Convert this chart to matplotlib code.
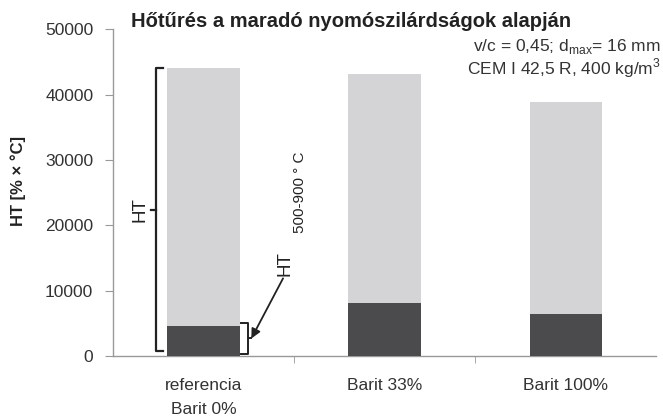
import matplotlib
matplotlib.use("Agg")
import matplotlib.pyplot as plt
from matplotlib.ticker import FixedLocator

categories = ["referencia\nBarit 0%", "Barit 33%", "Barit 100%"]
ht_total = [44000, 43200, 38900]      # HT (full bar)
ht_500_900 = [4650, 8150, 6400]       # HT 500-900 °C (dark part)
yticks = [0, 10000, 20000, 30000, 40000, 50000]

plt.rcParams['font.family'] = ['Liberation Sans', 'DejaVu Sans']

fig = plt.figure(figsize=(6.63, 4.18), dpi=100)
ax = fig.add_axes([0.170, 0.148, 0.820, 0.782])

x = list(range(len(categories)))
w = 0.40
ax.bar(x, ht_total, width=w, color="#d4d4d6", zorder=2)
ax.bar(x, ht_500_900, width=w, color="#4b4b4d", zorder=3)

ax.set_xlim(-0.5, 2.5)
ax.set_ylim(0, 50000)
ax.set_yticks(yticks)
ax.set_yticklabels([str(v) for v in yticks])
ax.set_xticks(x)
ax.set_xticklabels(categories, linespacing=1.75)
ax.xaxis.set_minor_locator(FixedLocator([0.5, 1.5]))
ax.tick_params(axis='x', which='major', length=0, pad=16, labelsize=12.5, colors='#333333')
ax.tick_params(axis='x', which='minor', length=5, color='#999999', direction='out')
ax.tick_params(axis='y', length=6, color='#999999', pad=8, labelsize=12.5, labelcolor='#333333')
for lab in ax.get_xticklabels():
    lab.set_verticalalignment('top')
for s in ['top', 'right']:
    ax.spines[s].set_visible(False)
for s in ['left', 'bottom']:
    ax.spines[s].set_color('#999999')
    ax.spines[s].set_linewidth(1.0)

ax.set_ylabel("HT [% × °C]", fontsize=12, fontweight='bold', color='#222222')
ax.yaxis.set_label_coords(-0.160, 0.535)

# big bracket for HT (full bar)
lc = '#222222'
xb = -w / 2 - 0.06
top = ht_total[0]
bot = 800
ax.plot([xb + 0.035, xb, xb, xb + 0.035], [top, top, bot, bot], color=lc, lw=1.6, zorder=4, clip_on=False)
mid = (top + bot) / 2
ax.plot([xb, xb - 0.027], [mid, mid], color=lc, lw=1.6, zorder=4)
ax.text(xb - 0.09, mid, "HT", rotation=90, ha='center', va='center', fontsize=13.5, color=lc)

# small bracket for HT 500-900 °C
xs = w / 2 + 0.045
stop = ht_500_900[0] + 350
sbot = 400
ax.plot([xs - 0.035, xs, xs, xs - 0.035], [stop, stop, sbot, sbot], color=lc, lw=1.4, zorder=4)
smid = (stop + sbot) / 2
ax.plot([xs, xs + 0.016], [smid, smid], color=lc, lw=1.4, zorder=4)
ax.annotate("", xy=(xs + 0.02, smid), xytext=(0.44, 11900),
            arrowprops=dict(arrowstyle='-|>', color=lc, lw=1.3, mutation_scale=14, shrinkA=0, shrinkB=0))
ax.text(0.45, 14100, "HT", rotation=90, ha='center', va='center', fontsize=13.5, color=lc)
ax.text(0.535, 25000, "500-900 ° C", rotation=90, ha='center', va='center', fontsize=11, color=lc)

fig.text(0.53, 0.949, "Hőtűrés a maradó nyomószilárdságok alapján", ha='center', va='center',
         fontsize=14.5, fontweight='bold', color='#222222')
fig.text(0.997, 0.888, r"v/c = 0,45; d$_{\mathregular{max}}$= 16 mm", ha='right', va='center',
         fontsize=12.5, color='#333333')
fig.text(0.997, 0.838, r"CEM I 42,5 R, 400 kg/m$^{\mathregular{3}}$", ha='right', va='center',
         fontsize=12.5, color='#333333')

fig.savefig("out.png", dpi=100, facecolor='white')
